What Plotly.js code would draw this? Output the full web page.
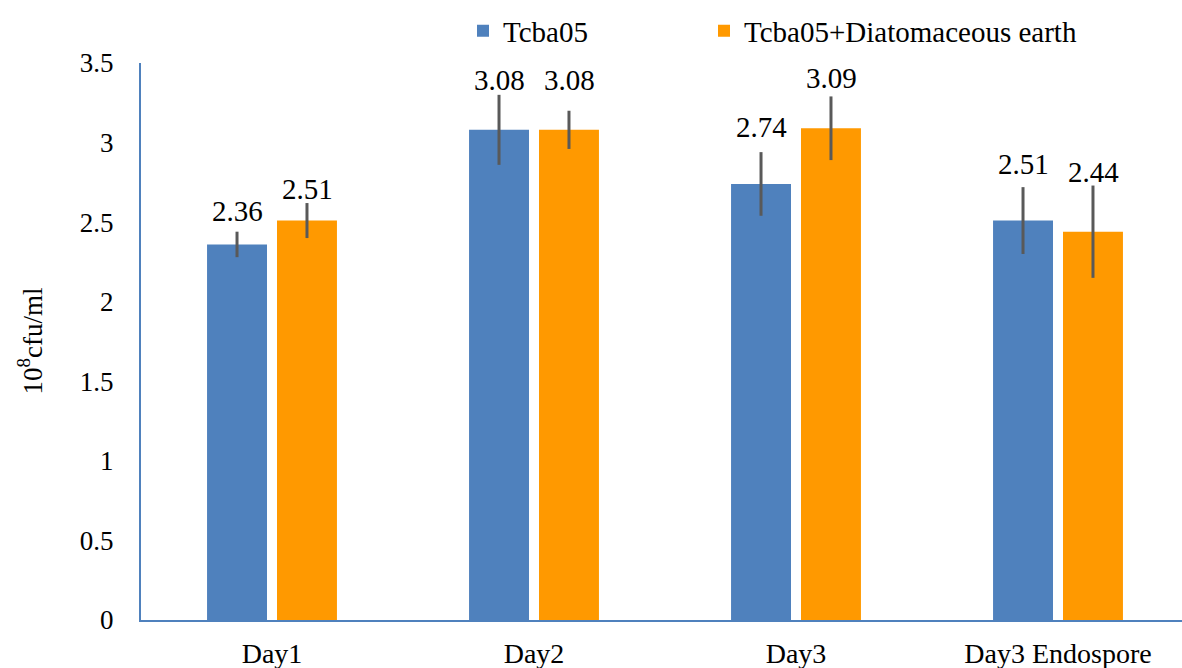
<!DOCTYPE html>
<html>
<head>
<meta charset="utf-8">
<script src="https://cdn.plot.ly/plotly-3.0.1.min.js"></script>
<style>html,body{margin:0;padding:0;background:#fff;}#chart{width:1182px;height:668px;}</style>
</head>
<body>
<div id="chart"></div>
<script>
const categories = ["Day1", "Day2", "Day3", "Day3 Endospore"];
const seriesNames = ["Tcba05", "Tcba05+Diatomaceous earth"];
const tcba05 = [2.36, 3.08, 2.74, 2.51];
const tcba05Err = [0.08, 0.22, 0.20, 0.21];
const tcba05DE = [2.51, 3.08, 3.09, 2.44];
const tcba05DEErr = [0.11, 0.12, 0.20, 0.29];
const yTicks = [0, 0.5, 1, 1.5, 2, 2.5, 3, 3.5];
const yTickText = ["0", "0.5", "1", "1.5", "2", "2.5", "3", "3.5"];

// label placement (pixels above bar top), style only
const labelLiftA = [33, 50, 57, 57];
const labelLiftB = [32, 50, 50, 60];

const FONT = "Liberation Serif";
const BLUE = "#4f81bd";
const ORANGE = "#ff9900";
const ERR = "#595959";

const traces = [
  {type: "bar", name: seriesNames[0], x: categories, y: tcba05, legend: "legend",
   marker: {color: BLUE, line: {width: 0}},
   error_y: {type: "data", array: tcba05Err, visible: true, color: ERR, thickness: 3, width: 0}},
  {type: "bar", name: seriesNames[1], x: categories, y: tcba05DE, legend: "legend2",
   marker: {color: ORANGE, line: {width: 0}},
   error_y: {type: "data", array: tcba05DEErr, visible: true, color: ERR, thickness: 3, width: 0}}
];

const annotations = [];
categories.forEach((c, i) => {
  annotations.push({x: c, y: tcba05[i], xref: "x", yref: "y", text: tcba05[i].toFixed(2),
    showarrow: false, xshift: -35, yshift: labelLiftA[i], yanchor: "middle",
    font: {family: FONT, size: 29, color: "#000"}});
  annotations.push({x: c, y: tcba05DE[i], xref: "x", yref: "y", text: tcba05DE[i].toFixed(2),
    showarrow: false, xshift: 35, yshift: labelLiftB[i], yanchor: "middle",
    font: {family: FONT, size: 29, color: "#000"}});
});
annotations.push({x: 0, y: 0.5, xref: "paper", yref: "paper", xshift: -111, textangle: -90,
  text: "10<sup>8</sup>cfu/ml", showarrow: false, xanchor: "center", yanchor: "middle",
  font: {family: FONT, size: 27, color: "#000"}});

const legendCommon = {orientation: "h", xref: "container", xanchor: "left",
  y: 1 - 31/668, yref: "container", yanchor: "middle",
  font: {family: FONT, size: 29, color: "#000"}, bgcolor: "rgba(0,0,0,0)"};

const layout = {
  width: 1182, height: 668,
  margin: {l: 141, r: 0, t: 63, b: 48},
  paper_bgcolor: "#fff", plot_bgcolor: "#fff",
  font: {family: FONT, size: 27, color: "#000"},
  barmode: "group",
  bargap: 0.466,
  bargroupgap: 0.143,
  showlegend: true,
  legend: Object.assign({}, legendCommon, {x: 463/1182}),
  legend2: Object.assign({}, legendCommon, {x: 704/1182}),
  xaxis: {type: "category", range: [-0.5, 3.5 - 7/262], showline: true, linecolor: BLUE, linewidth: 2,
    ticks: "", showgrid: false, zeroline: false, ticklabelstandoff: 7,
    tickfont: {family: FONT, size: 28, color: "#000"}, fixedrange: true},
  yaxis: {range: [0, 3.5], tickvals: yTicks, ticktext: yTickText, showline: true, linecolor: BLUE, linewidth: 2,
    ticks: "", showgrid: false, zeroline: false, ticklabelstandoff: 20,
    tickfont: {family: FONT, size: 27, color: "#000"}, fixedrange: true},
  annotations: annotations
};

Plotly.newPlot("chart", traces, layout, {displayModeBar: false, staticPlot: true});
</script>
</body>
</html>
